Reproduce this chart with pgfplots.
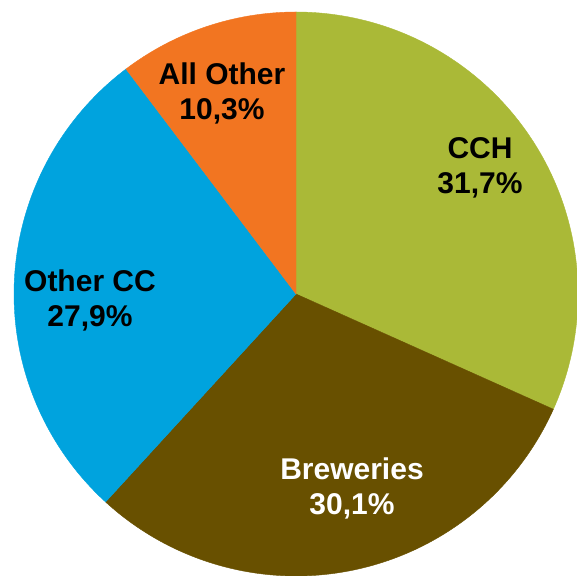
\documentclass[border=0pt]{standalone}
\usepackage{pgfplots}
\pgfplotsset{compat=1.18}
\usepackage{fontspec}
\setmainfont{Liberation Sans}
\definecolor{cch}{RGB}{170,185,55}
\definecolor{brew}{RGB}{104,80,0}
\definecolor{othercc}{RGB}{0,163,222}
\definecolor{allother}{RGB}{242,117,33}
\begin{document}
\begin{tikzpicture}
% shares in percent
\def\pCCH{31.7}
\def\pBrew{30.1}
\def\pOther{27.9}
\def\pAll{10.3}
\pgfmathsetmacro{\aA}{90}
\pgfmathsetmacro{\aB}{\aA-\pCCH*3.6}
\pgfmathsetmacro{\aC}{\aB-\pBrew*3.6}
\pgfmathsetmacro{\aD}{\aC-\pOther*3.6}
\pgfmathsetmacro{\aE}{\aD-\pAll*3.6}
\begin{axis}[width=288.5pt,height=288pt,scale only axis,hide axis,
  xmin=-296,xmax=281,ymin=-282,ymax=294,clip=true]
\path (rel axis cs:0,0) rectangle (rel axis cs:1,1);
\addplot[fill=cch,draw=cch,line width=0.2pt,domain=\aB:\aA,samples=120,variable=\t]
  ({282*cos(\t)},{282*sin(\t)}) -- (axis cs:0,0) -- cycle;
\addplot[fill=brew,draw=brew,line width=0.2pt,domain=\aC:\aB,samples=120,variable=\t]
  ({282*cos(\t)},{282*sin(\t)}) -- (axis cs:0,0) -- cycle;
\addplot[fill=othercc,draw=othercc,line width=0.2pt,domain=\aD:\aC,samples=120,variable=\t]
  ({282*cos(\t)},{282*sin(\t)}) -- (axis cs:0,0) -- cycle;
\addplot[fill=allother,draw=allother,line width=0.2pt,domain=\aE:\aD,samples=60,variable=\t]
  ({282*cos(\t)},{282*sin(\t)}) -- (axis cs:0,0) -- cycle;
\node[align=center,font=\fontsize{15}{17.5}\selectfont\bfseries,text=black] at (axis cs:-74,200.5) {All Other\\10,3\%};
\node[align=center,font=\fontsize{15}{17.5}\selectfont\bfseries,text=black] at (axis cs:184,126.5) {CCH\\31,7\%};
\node[align=center,font=\fontsize{15}{17.5}\selectfont\bfseries,text=white] at (axis cs:56,-194) {Breweries\\30,1\%};
\node[align=center,font=\fontsize{15}{17.5}\selectfont\bfseries,text=black] at (axis cs:-206,-6) {Other CC\\27,9\%};
\end{axis}
\end{tikzpicture}
\end{document}
